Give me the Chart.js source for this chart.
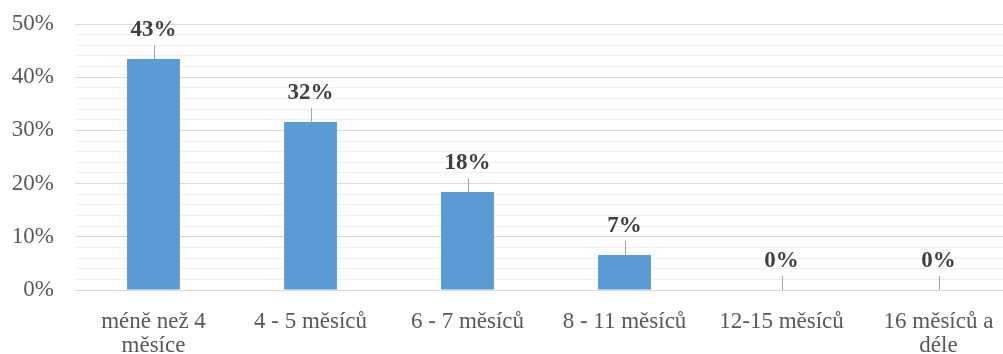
<!DOCTYPE html>
<html>
<head>
<meta charset="utf-8">
<script src="https://cdn.jsdelivr.net/npm/chart.js@4"></script>
<style>
    html, body { margin: 0; padding: 0; background: #fff; overflow: hidden; }
    .wrap { width: 1003px; height: 354px; overflow: hidden; }
</style>
</head>
<body>
<div class="wrap">
    <canvas id="chart" width="1017" height="354"></canvas>
</div>
<script>
const CATEGORIES = [
    ['méně než 4', 'měsíce'],
    '4 - 5 měsíců',
    '6 - 7 měsíců',
    '8 - 11 měsíců',
    '12-15 měsíců',
    ['16 měsíců a', 'déle'],
];
const SHARES = [43.4, 31.6, 18.4, 6.6, 0, 0];
const Y_TICKS = [0, 10, 20, 30, 40, 50];

const FONT = '"Liberation Serif", "Times New Roman", serif';

// value labels above the bars, each with a short grey leader line
const valueLabels = {
    id: 'valueLabels',
    afterDatasetsDraw(chart) {
        const { ctx } = chart;
        const meta = chart.getDatasetMeta(0);
        ctx.save();
        meta.data.forEach((bar, i) => {
            const top = bar.y;
            ctx.strokeStyle = '#a6a6a6';
            ctx.lineWidth = 1;
            ctx.beginPath();
            ctx.moveTo(Math.round(bar.x) + 0.5, top);
            ctx.lineTo(Math.round(bar.x) + 0.5, top - 14);
            ctx.stroke();

            ctx.fillStyle = '#404040';
            ctx.font = 'bold 23px ' + FONT;
            ctx.textAlign = 'center';
            ctx.textBaseline = 'alphabetic';
            ctx.fillText(Math.round(SHARES[i]) + '%', bar.x, top - 23);
        });
        ctx.restore();
    },
};

new Chart(document.getElementById('chart'), {
    type: 'bar',
    data: {
        labels: CATEGORIES,
        datasets: [{
            data: SHARES,
            backgroundColor: '#5b9bd5',
            borderWidth: 0,
            categoryPercentage: 1,
            barPercentage: 0.337,
        }],
    },
    options: {
        responsive: false,
        animation: false,
        layout: { padding: { top: 24, left: 0, right: 0, bottom: 0 } },
        plugins: { legend: { display: false }, tooltip: { enabled: false } },
        scales: {
            x: {
                grid: { display: false },
                border: { display: false },
                ticks: {
                    color: '#595959',
                    font: { family: FONT, size: 23, lineHeight: 1.05 },
                    padding: 12,
                    maxRotation: 0,
                    autoSkip: false,
                },
                afterFit: (scale) => { scale.height = 64; },
            },
            y: {
                min: 0,
                max: 50,
                border: { display: false },
                grid: {
                    // invisible tick marks keep the labels clear of the plot
                    tickLength: 21,
                    tickColor: 'rgba(0,0,0,0)',
                    color: (c) => (Y_TICKS.includes(c.tick.value) ? '#d9d9d9' : '#f0f0f0'),
                    lineWidth: 1,
                },
                ticks: {
                    stepSize: 2,
                    autoSkip: false,
                    padding: 0,
                    color: '#595959',
                    font: { family: FONT, size: 23 },
                    callback: (v) => (Y_TICKS.includes(v) ? v + '%' : ''),
                },
                afterFit: (scale) => { scale.width = 75; },
            },
        },
    },
    plugins: [valueLabels],
});
</script>
</body>
</html>
